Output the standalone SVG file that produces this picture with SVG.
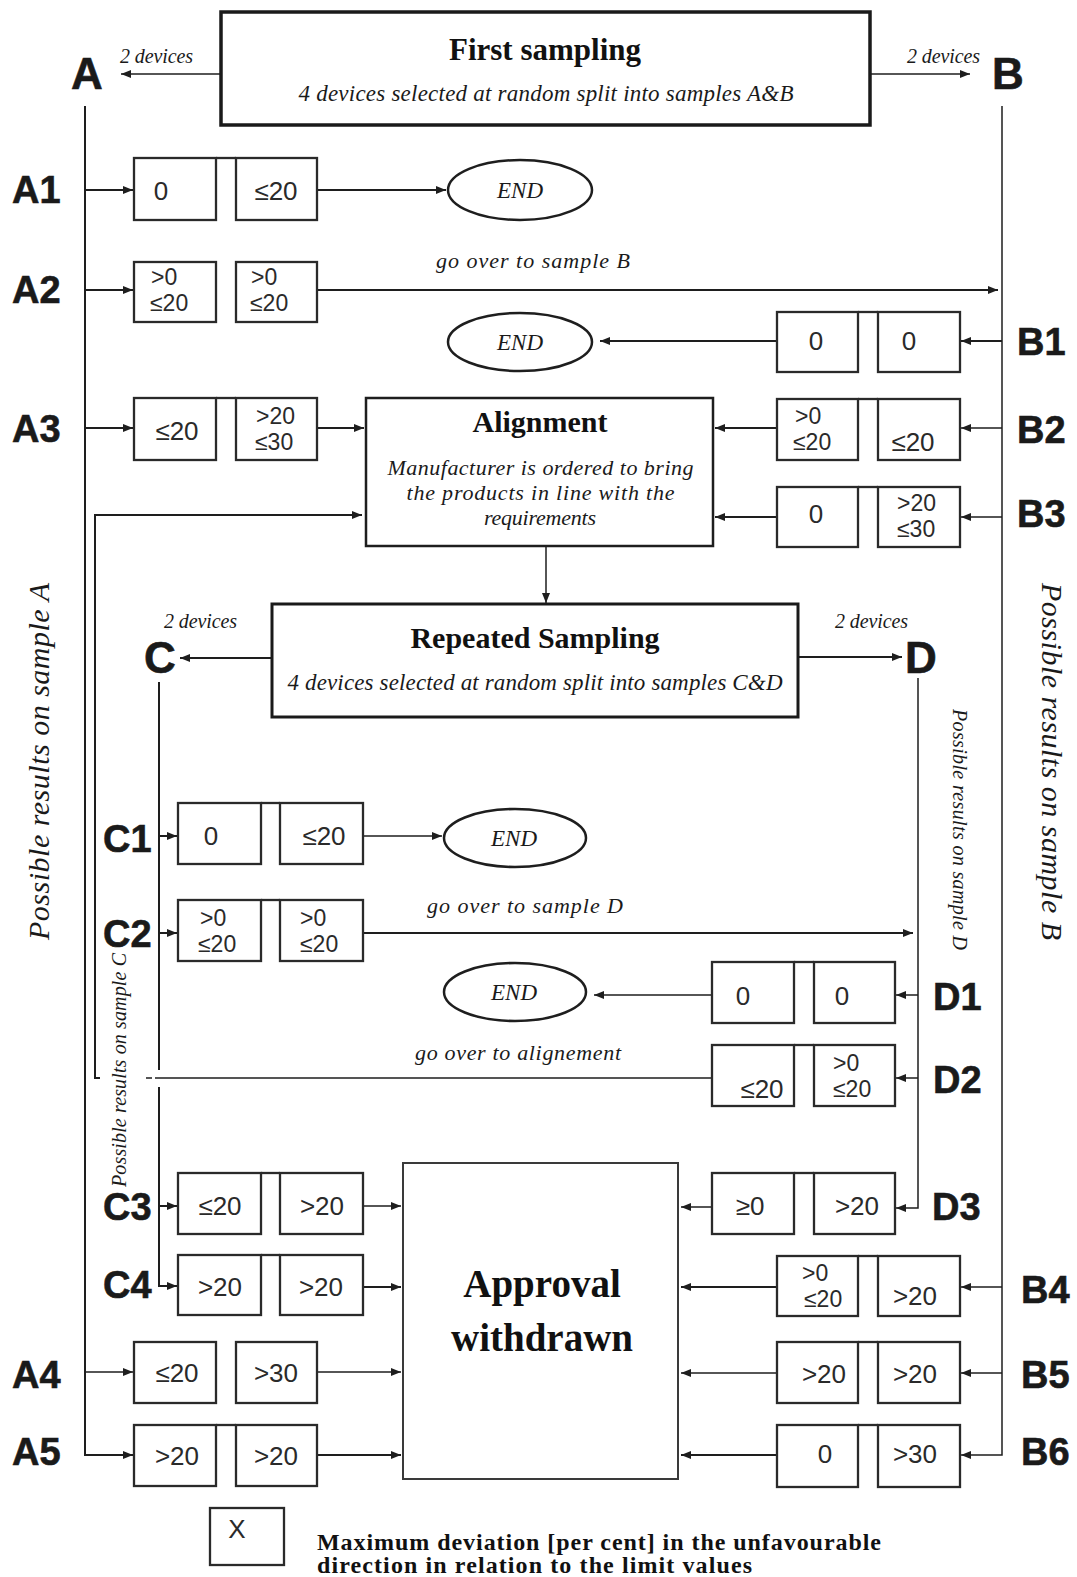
<svg xmlns="http://www.w3.org/2000/svg" width="1077" height="1577" viewBox="0 0 1077 1577">
<defs>
<marker id="ah" markerUnits="userSpaceOnUse" markerWidth="10" markerHeight="8" refX="10" refY="4" orient="auto"><path d="M0,0 L10,4 L0,8 z" fill="#1e1e1e"/></marker>
<style>
.bx{fill:#fff;stroke:#2a2a2a;stroke-width:2.3}
.tl{stroke:#2a2a2a;stroke-width:2.3}
.v{font-family:"Liberation Sans",Arial,sans-serif;font-size:23px;fill:#2a2a2a}
.vm{font-family:"Liberation Sans",Arial,sans-serif;font-size:26px;fill:#2a2a2a;text-anchor:middle}
.lb{font-family:"Liberation Sans",Arial,sans-serif;font-weight:bold;font-size:38px;fill:#1a1a1a;stroke:#1a1a1a;stroke-width:0.6}
.big{font-family:"Liberation Sans",Arial,sans-serif;font-weight:bold;font-size:44px;fill:#1a1a1a;stroke:#1a1a1a;stroke-width:0.6;text-anchor:middle}
.it{font-family:"Liberation Serif","Times New Roman",serif;font-style:italic;fill:#1a1a1a}
.bd{font-family:"Liberation Serif","Times New Roman",serif;font-weight:bold;fill:#111}
.ln{fill:none;stroke:#1e1e1e;stroke-width:2}
.lt{fill:none;stroke:#1e1e1e;stroke-width:1.5}
.el{fill:#fff;stroke:#1e1e1e;stroke-width:2.5}
</style>
</defs>
<rect width="1077" height="1577" fill="#fff"/>

<g id="connectors">
<line class="lt" x1="221" y1="74" x2="121" y2="74" marker-end="url(#ah)"/>
<line class="lt" x1="870" y1="74" x2="970" y2="74" marker-end="url(#ah)"/>
<path class="ln" d="M85,106 V1455 H133" marker-end="url(#ah)"/>
<line class="ln" x1="85" y1="190" x2="133" y2="190" marker-end="url(#ah)"/>
<line class="ln" x1="85" y1="290" x2="133" y2="290" marker-end="url(#ah)"/>
<line class="ln" x1="85" y1="428" x2="133" y2="428" marker-end="url(#ah)"/>
<line class="lt" x1="85" y1="1372" x2="133" y2="1372" marker-end="url(#ah)"/>
<line class="ln" x1="317" y1="190" x2="446" y2="190" marker-end="url(#ah)"/>
<line class="ln" x1="317" y1="290" x2="998" y2="290" marker-end="url(#ah)"/>
<path class="lt" d="M1002,106 V1455 H961" marker-end="url(#ah)"/>
<line class="ln" x1="1002" y1="341" x2="961" y2="341" marker-end="url(#ah)"/>
<line class="lt" x1="1002" y1="428" x2="961" y2="428" marker-end="url(#ah)"/>
<line class="lt" x1="1002" y1="517" x2="961" y2="517" marker-end="url(#ah)"/>
<line class="lt" x1="1002" y1="1287" x2="961" y2="1287" marker-end="url(#ah)"/>
<line class="lt" x1="1002" y1="1373" x2="961" y2="1373" marker-end="url(#ah)"/>
<line class="ln" x1="776" y1="341" x2="600" y2="341" marker-end="url(#ah)"/>
<line class="ln" x1="317" y1="428" x2="364" y2="428" marker-end="url(#ah)"/>
<line class="ln" x1="776" y1="428" x2="715" y2="428" marker-end="url(#ah)"/>
<line class="ln" x1="776" y1="517" x2="715" y2="517" marker-end="url(#ah)"/>
<line class="lt" x1="546" y1="546" x2="546" y2="603" marker-end="url(#ah)"/>
<line class="ln" x1="272" y1="658" x2="180" y2="658" marker-end="url(#ah)"/>
<line class="ln" x1="799" y1="657" x2="902" y2="657" marker-end="url(#ah)"/>
<path class="ln" d="M159,682 V1070 M159,1087 V1286 H177" marker-end="url(#ah)"/>
<line class="ln" x1="159" y1="836" x2="177" y2="836" marker-end="url(#ah)"/>
<line class="ln" x1="159" y1="933" x2="177" y2="933" marker-end="url(#ah)"/>
<line class="ln" x1="159" y1="1206" x2="177" y2="1206" marker-end="url(#ah)"/>
<line class="lt" x1="363" y1="836" x2="442" y2="836" marker-end="url(#ah)"/>
<line class="ln" x1="363" y1="933" x2="913" y2="933" marker-end="url(#ah)"/>
<path class="lt" d="M918,678 V1208 H896" marker-end="url(#ah)"/>
<line class="lt" x1="918" y1="995" x2="896" y2="995" marker-end="url(#ah)"/>
<line class="lt" x1="918" y1="1078" x2="896" y2="1078" marker-end="url(#ah)"/>
<line class="lt" x1="712" y1="995" x2="594" y2="995" marker-end="url(#ah)"/>
<path class="lt" d="M712,1078 H155 M152,1078 H146"/>
<path class="ln" d="M100,1078 H95 V515 H362" marker-end="url(#ah)"/>
<line class="lt" x1="362" y1="1206" x2="401" y2="1206" marker-end="url(#ah)"/>
<line class="ln" x1="363" y1="1287" x2="401" y2="1287" marker-end="url(#ah)"/>
<line class="lt" x1="317" y1="1372" x2="401" y2="1372" marker-end="url(#ah)"/>
<line class="ln" x1="317" y1="1455" x2="401" y2="1455" marker-end="url(#ah)"/>
<line class="lt" x1="712" y1="1207" x2="681" y2="1207" marker-end="url(#ah)"/>
<line class="ln" x1="777" y1="1287" x2="681" y2="1287" marker-end="url(#ah)"/>
<line class="lt" x1="777" y1="1373" x2="681" y2="1373" marker-end="url(#ah)"/>
<line class="ln" x1="777" y1="1455" x2="681" y2="1455" marker-end="url(#ah)"/>
</g>

<g id="first-sampling">
<rect x="221" y="12" width="649" height="113" fill="#fff" stroke="#1a1a1a" stroke-width="3.5"/>
<text class="bd" x="545" y="60" font-size="31" text-anchor="middle">First sampling</text>
<text class="it" x="546" y="101" font-size="23" text-anchor="middle" textLength="495">4 devices selected at random split into samples A&amp;B</text>
<text class="it" x="120" y="63" font-size="20" textLength="73">2 devices</text>
<text class="it" x="907" y="63" font-size="20" textLength="73">2 devices</text>
</g>

<g id="sample-A"><text class="big" x="87" y="89">A</text>
<text class="it" font-size="30" textLength="357" transform="translate(49,940) rotate(-90)">Possible results on sample A</text></g>
<g id="sample-B"><text class="big" x="1008" y="89">B</text>
<text class="it" font-size="30" textLength="357" transform="translate(1042,583) rotate(90)">Possible results on sample B</text></g>
<g id="sample-C"><text class="big" x="160" y="673">C</text>
<text class="it" font-size="20" textLength="234" transform="translate(126,1187) rotate(-90)">Possible results on sample C</text></g>
<g id="sample-D"><text class="big" x="921" y="673">D</text>
<text class="it" font-size="20" textLength="241" transform="translate(953,709) rotate(90)">Possible results on sample D</text></g>

<g id="A1"><text class="lb" x="12" y="203">A1</text>
<rect class="bx" x="134" y="158" width="82" height="62"/><rect class="bx" x="236" y="158" width="81" height="62"/><line class="tl" x1="216" y1="158" x2="236" y2="158"/>
<text class="vm" x="161" y="200">0</text><text class="vm" x="276" y="200">≤20</text></g>
<g id="A2"><text class="lb" x="12" y="303">A2</text>
<rect class="bx" x="134" y="262" width="82" height="60"/><rect class="bx" x="236" y="262" width="81" height="60"/>
<text class="v" x="151" y="285">&gt;0</text><text class="v" x="150" y="311">≤20</text>
<text class="v" x="251" y="285">&gt;0</text><text class="v" x="250" y="311">≤20</text></g>
<g id="A3"><text class="lb" x="12" y="442">A3</text>
<rect class="bx" x="134" y="398" width="82" height="62"/><rect class="bx" x="236" y="398" width="81" height="62"/><line class="tl" x1="216" y1="398" x2="236" y2="398"/>
<text class="vm" x="177" y="440">≤20</text>
<text class="v" x="256" y="424">&gt;20</text><text class="v" x="255" y="450">≤30</text></g>
<g id="A4"><text class="lb" x="12" y="1388">A4</text>
<rect class="bx" x="134" y="1342" width="82" height="61"/><rect class="bx" x="236" y="1342" width="81" height="61"/>
<text class="vm" x="177" y="1382">≤20</text><text class="vm" x="276" y="1382">&gt;30</text></g>
<g id="A5"><text class="lb" x="12" y="1465">A5</text>
<rect class="bx" x="134" y="1425" width="82" height="61"/><rect class="bx" x="236" y="1425" width="81" height="61"/><line class="tl" x1="216" y1="1425" x2="236" y2="1425"/>
<text class="vm" x="177" y="1465">&gt;20</text><text class="vm" x="276" y="1465">&gt;20</text></g>

<g id="B1"><text class="lb" x="1017" y="355">B1</text>
<rect class="bx" x="777" y="312" width="81" height="60"/><rect class="bx" x="878" y="312" width="82" height="60"/><line class="tl" x1="858" y1="312" x2="878" y2="312"/>
<text class="vm" x="816" y="350">0</text><text class="vm" x="909" y="350">0</text></g>
<g id="B2"><text class="lb" x="1017" y="443">B2</text>
<rect class="bx" x="777" y="399" width="81" height="61"/><rect class="bx" x="878" y="399" width="82" height="61"/><line class="tl" x1="858" y1="399" x2="878" y2="399"/>
<text class="v" x="795" y="424">&gt;0</text><text class="v" x="793" y="450">≤20</text><text class="vm" x="913" y="451">≤20</text></g>
<g id="B3"><text class="lb" x="1017" y="527">B3</text>
<rect class="bx" x="777" y="487" width="81" height="60"/><rect class="bx" x="878" y="487" width="82" height="60"/><line class="tl" x1="858" y1="487" x2="878" y2="487"/>
<text class="vm" x="816" y="523">0</text><text class="v" x="897" y="511">&gt;20</text><text class="v" x="897" y="537">≤30</text></g>
<g id="B4"><text class="lb" x="1021" y="1303">B4</text>
<rect class="bx" x="777" y="1256" width="81" height="60"/><rect class="bx" x="878" y="1256" width="82" height="60"/><line class="tl" x1="858" y1="1256" x2="878" y2="1256"/>
<text class="v" x="802" y="1281">&gt;0</text><text class="v" x="804" y="1307">≤20</text><text class="vm" x="915" y="1305">&gt;20</text></g>
<g id="B5"><text class="lb" x="1021" y="1388">B5</text>
<rect class="bx" x="777" y="1342" width="81" height="61"/><rect class="bx" x="878" y="1342" width="82" height="61"/><line class="tl" x1="858" y1="1342" x2="878" y2="1342"/>
<text class="vm" x="824" y="1383">&gt;20</text><text class="vm" x="915" y="1383">&gt;20</text></g>
<g id="B6"><text class="lb" x="1021" y="1465">B6</text>
<rect class="bx" x="777" y="1425" width="81" height="62"/><rect class="bx" x="878" y="1425" width="82" height="62"/><line class="tl" x1="858" y1="1425" x2="878" y2="1425"/>
<text class="vm" x="825" y="1463">0</text><text class="vm" x="915" y="1463">&gt;30</text></g>

<g id="C1"><text class="lb" x="103" y="852">C1</text>
<rect class="bx" x="178" y="803" width="83" height="61"/><rect class="bx" x="280" y="803" width="83" height="61"/><line class="tl" x1="261" y1="803" x2="280" y2="803"/>
<text class="vm" x="211" y="845">0</text><text class="vm" x="324" y="845">≤20</text></g>
<g id="C2"><text class="lb" x="103" y="947">C2</text>
<rect class="bx" x="178" y="900" width="83" height="61"/><rect class="bx" x="280" y="900" width="83" height="61"/><line class="tl" x1="261" y1="900" x2="280" y2="900"/>
<text class="v" x="200" y="926">&gt;0</text><text class="v" x="198" y="952">≤20</text>
<text class="v" x="300" y="926">&gt;0</text><text class="v" x="300" y="952">≤20</text></g>
<g id="C3"><text class="lb" x="103" y="1220">C3</text>
<rect class="bx" x="178" y="1173" width="83" height="61"/><rect class="bx" x="280" y="1173" width="83" height="61"/><line class="tl" x1="261" y1="1173" x2="280" y2="1173"/>
<text class="vm" x="220" y="1215">≤20</text><text class="vm" x="322" y="1215">&gt;20</text></g>
<g id="C4"><text class="lb" x="103" y="1298">C4</text>
<rect class="bx" x="178" y="1255" width="83" height="60"/><rect class="bx" x="280" y="1255" width="83" height="60"/><line class="tl" x1="261" y1="1255" x2="280" y2="1255"/>
<text class="vm" x="220" y="1296">&gt;20</text><text class="vm" x="321" y="1296">&gt;20</text></g>

<g id="D1"><text class="lb" x="933" y="1010">D1</text>
<rect class="bx" x="712" y="962" width="82" height="61"/><rect class="bx" x="814" y="962" width="81" height="61"/><line class="tl" x1="794" y1="962" x2="814" y2="962"/>
<text class="vm" x="743" y="1005">0</text><text class="vm" x="842" y="1005">0</text></g>
<g id="D2"><text class="lb" x="933" y="1093">D2</text>
<rect class="bx" x="712" y="1045" width="82" height="61"/><rect class="bx" x="814" y="1045" width="81" height="61"/><line class="tl" x1="794" y1="1045" x2="814" y2="1045"/>
<text class="vm" x="762" y="1098">≤20</text><text class="v" x="833" y="1071">&gt;0</text><text class="v" x="833" y="1097">≤20</text></g>
<g id="D3"><text class="lb" x="932" y="1220">D3</text>
<rect class="bx" x="712" y="1173" width="82" height="61"/><rect class="bx" x="814" y="1173" width="81" height="61"/><line class="tl" x1="794" y1="1173" x2="814" y2="1173"/>
<text class="vm" x="750" y="1215">≥0</text><text class="vm" x="857" y="1215">&gt;20</text></g>

<g id="end1"><ellipse class="el" cx="520" cy="190" rx="72" ry="30"/><text class="it" x="520" y="198" font-size="23" text-anchor="middle">END</text></g>
<g id="end2"><ellipse class="el" cx="520" cy="342" rx="72" ry="29"/><text class="it" x="520" y="350" font-size="23" text-anchor="middle">END</text></g>
<g id="end3"><ellipse class="el" cx="515" cy="838" rx="71" ry="29"/><text class="it" x="514" y="846" font-size="23" text-anchor="middle">END</text></g>
<g id="end4"><ellipse class="el" cx="515" cy="992" rx="71" ry="29"/><text class="it" x="514" y="1000" font-size="23" text-anchor="middle">END</text></g>

<g id="alignment">
<rect x="366" y="398" width="347" height="148" fill="#fff" stroke="#1e1e1e" stroke-width="2.5"/>
<text class="bd" x="540" y="432" font-size="30" text-anchor="middle">Alignment</text>
<text class="it" x="540.5" y="475" font-size="22" text-anchor="middle" textLength="306">Manufacturer is ordered to bring</text>
<text class="it" x="540.5" y="500" font-size="22" text-anchor="middle" textLength="268">the products in line with the</text>
<text class="it" x="540" y="525" font-size="22" text-anchor="middle" textLength="112">requirements</text>
</g>

<g id="repeated-sampling">
<rect x="272" y="604" width="526" height="113" fill="#fff" stroke="#1a1a1a" stroke-width="3"/>
<text class="bd" x="535" y="648" font-size="30" text-anchor="middle">Repeated Sampling</text>
<text class="it" x="535" y="690" font-size="23" text-anchor="middle" textLength="495">4 devices selected at random split into samples C&amp;D</text>
<text class="it" x="164" y="628" font-size="20" textLength="73">2 devices</text>
<text class="it" x="835" y="628" font-size="20" textLength="73">2 devices</text>
</g>

<g id="labels">
<text class="it" x="436" y="268" font-size="22" textLength="194">go over to sample B</text>
<text class="it" x="427" y="913" font-size="22" textLength="196">go over to sample D</text>
<text class="it" x="415" y="1060" font-size="22" textLength="206">go over to alignement</text>
</g>

<g id="approval-withdrawn">
<rect x="403" y="1163" width="275" height="316" fill="#fff" stroke="#3a3a3a" stroke-width="2"/>
<text class="bd" x="542" y="1297" font-size="39" text-anchor="middle">Approval</text>
<text class="bd" x="542" y="1351" font-size="39" text-anchor="middle">withdrawn</text>
</g>

<g id="legend">
<rect x="210" y="1508" width="74" height="57" fill="#fff" stroke="#2a2a2a" stroke-width="2.3"/>
<text class="vm" x="237" y="1538" font-size="24">X</text>
<text class="bd" x="317" y="1550" font-size="24" textLength="564">Maximum deviation [per cent] in the unfavourable</text>
<text class="bd" x="317" y="1573" font-size="24" textLength="435">direction in relation to the limit values</text>
</g>
</svg>
